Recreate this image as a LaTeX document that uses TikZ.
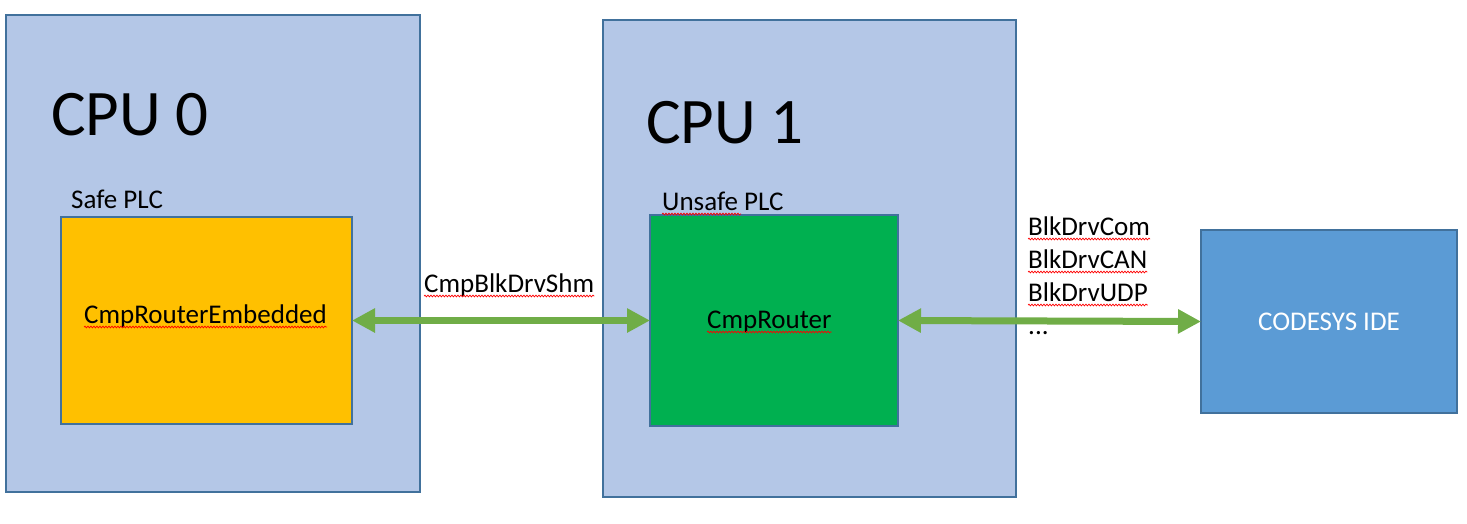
\documentclass[tikz,border=0pt]{standalone}
\usepackage{fontspec}
\setmainfont{Carlito}
\usetikzlibrary{arrows.meta,decorations.pathmorphing}
\definecolor{bord}{HTML}{41719C}
\definecolor{cpufill}{HTML}{B4C7E7}
\definecolor{safefill}{HTML}{FFC000}
\definecolor{unsafefill}{HTML}{00B050}
\definecolor{idefill}{HTML}{5B9BD5}
\definecolor{arrowgreen}{HTML}{70AD47}
\begin{document}
\begin{tikzpicture}[x=1pt,y=-1pt,
  box/.style={draw=bord, line width=2pt, anchor=north west, inner sep=0pt, outer sep=0pt},
  lbl/.style={inner sep=0pt, anchor=base west, font=\fontsize{27}{32}\selectfont},
  big/.style={inner sep=0pt, anchor=base west, font=\fontsize{65}{78}\selectfont},
  link/.style={draw=arrowgreen, line width=7pt, {Triangle[width=23pt,length=23pt]}-{Triangle[width=23pt,length=23pt]}},
  squig/.style={draw=red, line width=0.7pt, decorate, decoration={snake, amplitude=0.9pt, segment length=3pt}}]
\useasboundingbox (0,0) rectangle (1467,523);
% boxes
\node[box, fill=cpufill, minimum width=414pt, minimum height=477pt] (cpu0) at (6,15) {};
\node[box, fill=cpufill, minimum width=413pt, minimum height=477pt] (cpu1) at (603,20) {};
\node[box, fill=safefill, minimum width=291pt, minimum height=207pt] (plc0) at (61,217) {};
\node[box, fill=unsafefill, minimum width=248pt, minimum height=211pt] (plc1) at (650,215) {};
\node[box, fill=idefill, minimum width=256pt, minimum height=183pt, text=white, font=\fontsize{27}{32}\selectfont] (ide) at (1201,230) {CODESYS IDE};
% connectors
\draw[link] (plc0.east) -- (plc1.west);
\draw[link] (plc1.east) -- (ide.west);
% labels
\node[big] (cpu0lbl) at (51,135) {CPU 0};
\node[big] (cpu1lbl) at (646,143) {CPU 1};
\node[lbl] (safelbl) at (71,208) {Safe PLC};
\node[lbl] (unsafelbl) at (662,210) {Unsafe PLC};
\node[lbl] (shm) at (424,292) {CmpBlkDrvShm};
\node[lbl] (emb) at (84,323) {CmpRouterEmbedded};
\node[lbl] (rtr) at (707,328) {CmpRouter};
\node[lbl] (com) at (1028,235) {BlkDrvCom};
\node[lbl] (can) at (1028,268) {BlkDrvCAN};
\node[lbl] (udp) at (1028,301) {BlkDrvUDP};
\node[lbl] (dots) at (1028,334) {...};
% spell-check underlines
\foreach \t in {shm,emb,rtr,com,can,udp}
  \draw[squig] ([yshift=-4pt]\t.base west) -- ([yshift=-4pt]\t.base east);
\draw[squig] ([yshift=-4pt]unsafelbl.base west) -- ([yshift=-4pt,xshift=79pt]unsafelbl.base west);
\end{tikzpicture}
\end{document}
